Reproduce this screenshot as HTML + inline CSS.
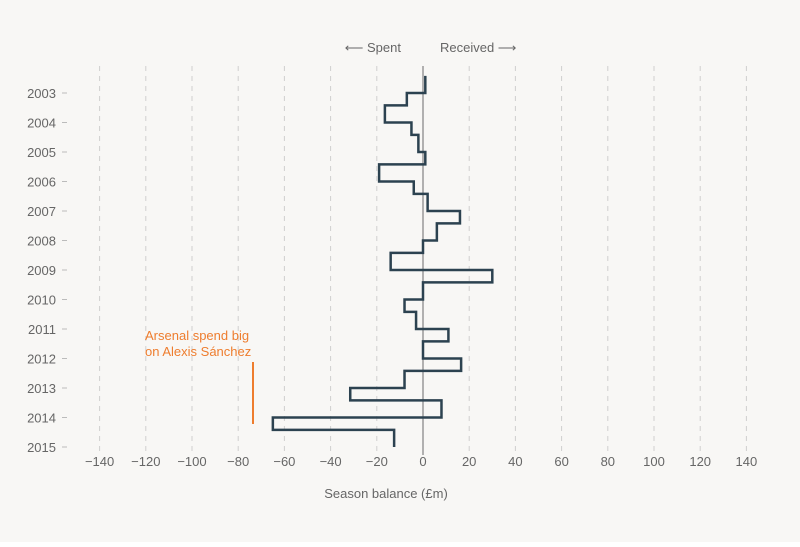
<!DOCTYPE html>
<html><head><meta charset="utf-8"><style>
html,body{margin:0;padding:0;background:#fff}
#wrap{position:relative;width:800px;height:542px;background:#f8f7f5}
text{font-family:"Liberation Sans",sans-serif}
</style></head><body>
<div id="wrap">
<svg id="chart" width="800" height="542"></svg>
</div>
<script>
const years = [2003,2004,2005,2006,2007,2008,2009,2010,2011,2012,2013,2014,2015];
const xTicks = [-140,-120,-100,-80,-60,-40,-20,0,20,40,60,80,100,120,140];
// window values (first is 2002 winter, then summer/winter alternating from 2003)
const windowLabels = ["2002w","2003s","2003w","2004s","2004w","2005s","2005w","2006s","2006w","2007s","2007w","2008s","2008w","2009s","2009w","2010s","2010w","2011s","2011w","2012s","2012w","2013s","2013w","2014s","2014w"];
const balances = [1,-7,-16.5,-5,-2,1,-19,-4,2,16,6,0,-14,30,0,-8,-3,11,0,16.5,-8,-31.5,8,-65,-12.5];

const svg = document.getElementById('chart');
const NS = 'http://www.w3.org/2000/svg';
const xScale = v => 423 + v * 2.31;
const yScale = yr => 93 + (yr - 2003) * 29.5;
function mk(tag, attrs){const e=document.createElementNS(NS,tag);for(const k in attrs)e.setAttribute(k,attrs[k]);svg.appendChild(e);return e;}

// gridlines & x labels
xTicks.forEach(t=>{
  const g = mk('line',{x1:xScale(t),x2:xScale(t),y1:66,y2:455,stroke:t===0?'#999':'#cfcfcf','stroke-width':t===0?1.5:1,'stroke-dasharray':t===0?'':'5,5'});
  
  
  const l = mk('text',{x:xScale(t),y:466,'text-anchor':'middle','font-size':13,fill:'#666'});
  l.textContent = t<0 ? '\u2212'+Math.abs(t) : String(t);
  
  
});
// y labels
years.forEach(y=>{
  const l = mk('text',{x:56,y:yScale(y)+5,'text-anchor':'end','font-size':13,fill:'#666'});
  l.textContent = y;
  
  
  const tk = mk('line',{x1:62,x2:67,y1:yScale(y),y2:yScale(y),stroke:'#bbb','stroke-width':1});
  
  
});
// step line
let d='';
let yPos = yScale(2002) + 29.5*0.42;
balances.forEach((v,i)=>{
  const yrIdx = Math.floor((i+1)/2);
  let yEnd;
  if(i===balances.length-1) yEnd = yScale(2015);
  else if(i%2===0) yEnd = yScale(2003+yrIdx);
  else yEnd = yScale(2003+yrIdx-1)+29.5*0.42;
  d += (i===0?'M':'L')+xScale(v)+','+yPos+' L'+xScale(v)+','+yEnd+' ';
  yPos = yEnd;
});
const p = mk('path',{d:d,fill:'none',stroke:'#2c4250','stroke-width':2.5,'stroke-linejoin':'miter'});



// annotation
const a1 = mk('text',{x:145,y:340,'font-size':13,fill:'#ee7d2e'}); a1.textContent='Arsenal spend big';


const a2 = mk('text',{x:145,y:356,'font-size':13,fill:'#ee7d2e'}); a2.textContent='on Alexis Sánchez';


const al = mk('line',{x1:253,x2:253,y1:362,y2:424,stroke:'#ee7d2e','stroke-width':2});



// headers
const h1 = mk('text',{x:401,y:52,'text-anchor':'end','font-size':13,fill:'#666'}); h1.textContent='\u27F5 Spent';


const h2 = mk('text',{x:440,y:52,'font-size':13,fill:'#666'}); h2.textContent='Received \u27F6';


const xt = mk('text',{x:386,y:498,'text-anchor':'middle','font-size':13,fill:'#666'}); xt.textContent='Season balance (£m)';


</script>
</body></html>
